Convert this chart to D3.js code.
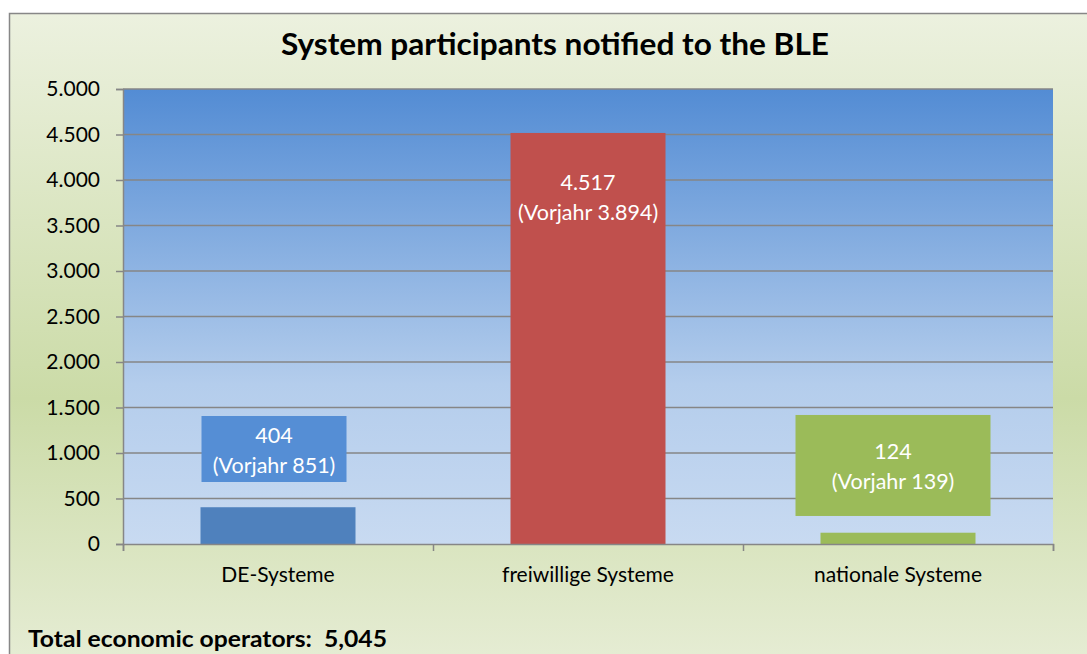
<!DOCTYPE html>
<html>
<head>
<meta charset="utf-8">
<script src="https://cdn.jsdelivr.net/npm/d3@7"></script>
<style>
  html, body { margin: 0; padding: 0; background: #fff; }
  svg { display: block; font-family: Lato, "Open Sans", sans-serif; }
</style>
</head>
<body>
<svg id="chart" width="1087" height="654"></svg>
<script>
const categories = ["DE-Systeme", "freiwillige Systeme", "nationale Systeme"];
const values = [404, 4517, 124];
const previous = [851, 3894, 139];
const yTicks = [0, 500, 1000, 1500, 2000, 2500, 3000, 3500, 4000, 4500, 5000];
const title = "System participants notified to the BLE";
const footnote = "Total economic operators:  5,045";

const barColors = ["#4f81bd", "#c0504d", "#9bbb59"];
const boxColors = ["#558ed5", null, "#9bbb59"];

const svg = d3.select("#chart");
const fmt = d3.formatLocale({ decimal: ",", thousands: ".", grouping: [3], currency: ["", ""] }).format(",d");

const defs = svg.append("defs");
const bg = defs.append("linearGradient").attr("id", "bg").attr("x1", 0).attr("y1", 0).attr("x2", 0).attr("y2", 1);
bg.append("stop").attr("offset", "0%").attr("stop-color", "#ecf1df");
bg.append("stop").attr("offset", "55%").attr("stop-color", "#cbdba7");
bg.append("stop").attr("offset", "100%").attr("stop-color", "#ebf0dd");

const pg = defs.append("linearGradient").attr("id", "plotbg").attr("x1", 0).attr("y1", 0).attr("x2", 0).attr("y2", 1);
pg.append("stop").attr("offset", "0%").attr("stop-color", "#538cd4");
pg.append("stop").attr("offset", "65%").attr("stop-color", "#b4cdec");
pg.append("stop").attr("offset", "100%").attr("stop-color", "#c8daf1");

// outer chart area
svg.append("rect")
    .attr("x", 9.5).attr("y", 13.5)
    .attr("width", 1100).attr("height", 700)
    .attr("fill", "url(#bg)")
    .attr("stroke", "#878787").attr("stroke-width", 1.5);

const plot = { left: 123, right: 1053, top: 89, bottom: 544 };

const x = d3.scaleBand()
    .domain(categories)
    .range([plot.left, plot.right])
    .paddingInner(0.5)
    .paddingOuter(0.25);

const y = d3.scaleLinear().domain([0, 5000]).range([plot.bottom, plot.top]);

svg.append("rect")
    .attr("x", plot.left).attr("y", plot.top)
    .attr("width", plot.right - plot.left).attr("height", plot.bottom - plot.top)
    .attr("fill", "url(#plotbg)");

// gridlines
svg.append("g")
    .selectAll("line")
    .data(yTicks.filter(d => d > 0))
    .join("line")
    .attr("x1", plot.left).attr("x2", plot.right)
    .attr("y1", d => y(d)).attr("y2", d => y(d))
    .attr("stroke", "#868686").attr("stroke-width", 1.5);

// bars
svg.append("g")
    .selectAll("rect")
    .data(values)
    .join("rect")
    .attr("x", (d, i) => x(categories[i]))
    .attr("width", x.bandwidth())
    .attr("y", d => y(d))
    .attr("height", d => y(0) - y(d))
    .attr("fill", (d, i) => barColors[i]);

// y axis
const yAxis = svg.append("g")
    .attr("transform", `translate(${plot.left},0)`)
    .call(d3.axisLeft(y).tickValues(yTicks).tickFormat(fmt).tickSize(7).tickPadding(16));
yAxis.select(".domain").attr("stroke", "#868686").attr("stroke-width", 1.5);
yAxis.selectAll(".tick line").attr("stroke", "#868686").attr("stroke-width", 1.5);
yAxis.selectAll(".tick text").attr("font-size", 21).attr("fill", "#000").attr("font-family", "Lato, sans-serif");

// x axis with ticks on category boundaries
const xEdges = d3.scaleLinear().domain([0, categories.length]).range([plot.left, plot.right]);
const xAxis = svg.append("g")
    .attr("transform", `translate(0,${plot.bottom})`)
    .call(d3.axisBottom(xEdges).tickValues(d3.range(categories.length + 1)).tickFormat("").tickSize(7).tickSizeOuter(7));
xAxis.select(".domain").attr("stroke", "#868686").attr("stroke-width", 1.5);
xAxis.selectAll(".tick line").attr("stroke", "#868686").attr("stroke-width", 1.5);

svg.append("g")
    .selectAll("text")
    .data(categories)
    .join("text")
    .attr("x", d => x(d) + x.bandwidth() / 2)
    .attr("y", 582)
    .attr("text-anchor", "middle")
    .attr("font-size", 21)
    .attr("fill", "#000")
    .text(d => d);

// data labels (manually placed boxes as in the original)
const labelPos = [
    { cy: 1044, w: 145, h: 66, dx: -4 },
    { cy: 3824, w: 0, h: 0, dx: 0 },
    { cy: 863, w: 195, h: 101, dx: -5 }
];
const labels = svg.append("g")
    .selectAll("g")
    .data(values.map((v, i) => ({ v, prev: previous[i], i })))
    .join("g")
    .attr("transform", d => `translate(${x(categories[d.i]) + x.bandwidth() / 2 + labelPos[d.i].dx},${y(labelPos[d.i].cy)})`);

labels.filter(d => boxColors[d.i])
    .append("rect")
    .attr("x", d => -labelPos[d.i].w / 2)
    .attr("y", d => -labelPos[d.i].h / 2)
    .attr("width", d => labelPos[d.i].w)
    .attr("height", d => labelPos[d.i].h)
    .attr("fill", d => boxColors[d.i]);

labels.append("text")
    .attr("text-anchor", "middle")
    .attr("fill", "#fff")
    .attr("font-size", 21.5)
    .call(t => t.append("tspan").attr("x", 0).attr("y", -6).text(d => fmt(d.v)))
    .call(t => t.append("tspan").attr("x", 0).attr("y", 24).text(d => `(Vorjahr ${fmt(d.prev)})`));

// title
svg.append("text")
    .attr("x", 555).attr("y", 55)
    .attr("text-anchor", "middle")
    .attr("font-size", 31)
    .attr("font-weight", "bold")
    .attr("fill", "#000")
    .attr("textLength", 548)
    .attr("lengthAdjust", "spacingAndGlyphs")
    .text(title);

svg.append("text")
    .attr("x", 28).attr("y", 647)
    .attr("font-size", 22)
    .attr("font-weight", "bold")
    .attr("fill", "#000")
    .style("white-space", "pre")
    .attr("textLength", 359)
    .attr("lengthAdjust", "spacingAndGlyphs")
    .text(footnote);
</script>
</body>
</html>
